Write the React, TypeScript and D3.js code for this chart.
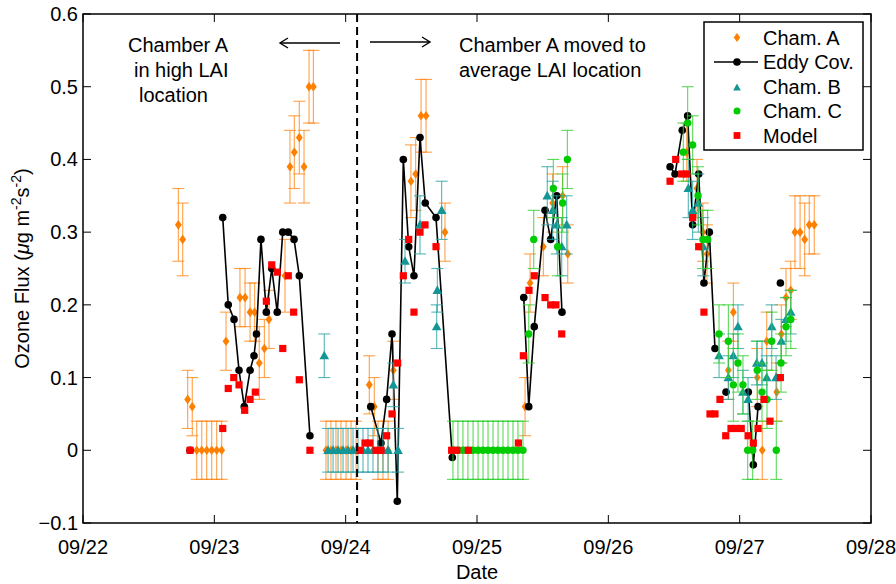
import React from "react";
import * as d3 from "d3";

// ---------- data (time = day of September, fractional) ----------
const xTickDays = [22, 23, 24, 25, 26, 27, 28];
const xTickLabels = ["09/22", "09/23", "09/24", "09/25", "09/26", "09/27", "09/28"];
const yTicks = [-0.1, 0, 0.1, 0.2, 0.3, 0.4, 0.5, 0.6];
const yTickLabels = ["\u22120.1", "0", "0.1", "0.2", "0.3", "0.4", "0.5", "0.6"];

const chamAT = [22.726, 22.759, 22.797, 22.832, 22.866, 22.904, 22.942, 22.980, 23.018, 23.056, 23.089, 23.195, 23.234, 23.272, 23.307, 23.342, 23.381, 23.416, 23.538, 23.576, 23.609, 23.647, 23.683, 23.721, 23.754,
  23.850, 23.888, 23.926, 23.964, 24.003, 24.041, 24.079, 24.180, 24.218, 24.246, 24.284, 24.323, 24.363, 24.497, 24.533, 24.574, 24.612, 24.756,
  25.366, 25.404, 25.505, 25.576, 25.652, 25.691,
  26.597, 26.675, 26.720, 26.751, 26.914, 26.952, 27.134, 27.172, 27.206, 27.282, 27.317, 27.353, 27.389, 27.421, 27.460, 27.495, 27.530, 27.568];
const chamAV = [0.31, 0.29, 0.07, 0.06, 0, 0, 0, 0, 0, 0, 0.15, 0.21, 0.21, 0.19, 0.19, 0.12, 0.14, 0.18, 0.24, 0.39, 0.41, 0.43, 0.39, 0.50, 0.50,
  0, 0, 0, 0, 0, 0, 0, 0.09, 0.06, 0, 0, 0, 0.11, 0.37, 0.38, 0.46, 0.46, 0.30,
  0.06, 0.23, 0.28, 0.34, 0.35, 0.27,
  0.41, 0.36, 0.30, 0.27, 0.11, 0.19, 0.10, 0.0, 0.15, 0.08, 0.16, 0.21, 0.22, 0.30, 0.30, 0.29, 0.31, 0.31];
const chamAE = [0.05, 0.05, 0.04, 0.04, 0.04, 0.04, 0.04, 0.04, 0.04, 0.04, 0.04, 0.04, 0.04, 0.04, 0.04, 0.05, 0.04, 0.04, 0.05, 0.05, 0.05, 0.05, 0.05, 0.05, 0.05,
  0.04, 0.04, 0.04, 0.04, 0.04, 0.04, 0.04, 0.04, 0.04, 0.04, 0.04, 0.04, 0.04, 0.05, 0.05, 0.05, 0.05, 0.04,
  0.04, 0.04, 0.04, 0.04, 0.04, 0.04,
  0.04, 0.04, 0.04, 0.04, 0.04, 0.04, 0.04, 0.04, 0.04, 0.04, 0.04, 0.04, 0.04, 0.05, 0.05, 0.05, 0.04, 0.04];

const chamBT = [23.837, 23.866, 23.904, 23.942, 23.980, 24.018, 24.056, 24.094, 24.132, 24.170, 24.208, 24.246, 24.284, 24.323, 24.399, 24.363, 24.452, 24.566, 24.731, 24.698, 24.693,
  25.535, 25.576, 25.607, 25.645, 25.683,
  26.609, 26.642, 26.685, 26.723, 26.843, 26.914, 26.952, 26.987, 27.025, 27.064, 27.130, 27.170, 27.206, 27.244, 27.277, 27.317, 27.353, 27.389];
const chamBV = [0.13, 0, 0, 0, 0, 0, 0, 0, 0, 0, 0, 0, 0, 0, 0, 0.09, 0.26, 0.31, 0.33, 0.22, 0.17,
  0.35, 0.33, 0.31, 0.28, 0.31,
  0.36, 0.33, 0.34, 0.28, 0.13, 0.10, 0.13, 0.17, 0.08, 0.07, 0.12, 0.12, 0.10, 0.17, 0.10, 0.15, 0.18, 0.19];
const chamBE = [0.03, 0.03, 0.03, 0.03, 0.03, 0.03, 0.03, 0.03, 0.03, 0.03, 0.03, 0.03, 0.03, 0.03, 0.03, 0.03, 0.03, 0.04, 0.04, 0.03, 0.03,
  0.04, 0.04, 0.04, 0.04, 0.04,
  0.04, 0.04, 0.04, 0.04, 0.03, 0.03, 0.03, 0.03, 0.03, 0.03, 0.03, 0.03, 0.03, 0.03, 0.03, 0.03, 0.03, 0.03];

const chamCT = [24.817, 24.855, 24.893, 24.931, 24.970, 25.008, 25.046, 25.084, 25.122, 25.160, 25.198, 25.236, 25.274, 25.312, 25.350,
  25.394, 25.432, 25.581, 25.614, 25.652, 25.688,
  26.571, 26.604, 26.642, 26.683, 26.720, 26.756, 26.843, 26.914, 26.952, 26.987, 27.025, 27.061, 27.099, 27.134, 27.170, 27.208, 27.244, 27.279, 27.315, 27.353, 27.389];
const chamCV = [0, 0, 0, 0, 0, 0, 0, 0, 0, 0, 0, 0, 0, 0, 0,
  0.16, 0.29, 0.36, 0.28, 0.34, 0.40,
  0.41, 0.45, 0.42, 0.35, 0.29, 0.29, 0.16, 0.15, 0.09, 0.12, 0.09, 0.0, 0.0, 0.11, 0.08, 0.07, 0.15, 0.0, 0.12, 0.17, 0.18];
const chamCE = [0.04, 0.04, 0.04, 0.04, 0.04, 0.04, 0.04, 0.04, 0.04, 0.04, 0.04, 0.04, 0.04, 0.04, 0.04,
  0.04, 0.04, 0.04, 0.04, 0.04, 0.04,
  0.04, 0.05, 0.04, 0.04, 0.04, 0.04, 0.04, 0.05, 0.05, 0.04, 0.04, 0.04, 0.04, 0.04, 0.04, 0.04, 0.04, 0.04, 0.04, 0.04, 0.04];

// NaN marks a break in the Eddy covariance line
const eddyT = [22.815, NaN,
  23.064, 23.106, 23.150, 23.188, 23.228, 23.272, 23.302, 23.321, 23.355, 23.396, 23.437, 23.479, 23.521, 23.563, 23.607, 23.647, 23.728, NaN,
  24.191, 24.269, 24.312, 24.353, 24.393, 24.439, 24.480, 24.520, 24.566, 24.606, 24.688, 24.812, NaN,
  25.356, 25.394, 25.436, 25.518, 25.561, 25.607, 25.647, NaN,
  26.470, 26.508, 26.563, 26.604, 26.642, 26.688, 26.728, 26.769, 26.812, NaN,
  26.896, NaN,
  27.066, 27.104, 27.140, NaN,
  27.310];
const eddyV = [0.0, NaN,
  0.32, 0.20, 0.18, 0.11, 0.06, 0.11, 0.13, 0.16, 0.29, 0.19, 0.25, 0.19, 0.30, 0.30, 0.29, 0.24, 0.02, NaN,
  0.06, 0.01, 0.07, 0.16, -0.07, 0.40, 0.28, 0.24, 0.43, 0.34, 0.32, -0.01, NaN,
  0.21, 0.06, 0.17, 0.33, 0.29, 0.35, 0.19, NaN,
  0.39, 0.38, 0.44, 0.46, 0.31, 0.38, 0.23, 0.30, 0.14, NaN,
  0.08, NaN,
  0.08, -0.02, 0.06, NaN,
  0.23];

const modelT = [22.815, 23.064, 23.106, 23.148, 23.188, 23.231, 23.272, 23.312, 23.396, 23.437, 23.479, 23.521, 23.563, 23.604, 23.647, 23.728,
  24.109, 24.147, 24.185, 24.231, 24.269, 24.312, 24.353, 24.396, 24.439, 24.480, 24.520, 24.566, 24.604, 24.688, 24.807, 24.846, 24.934,
  25.315, 25.353, 25.396, 25.436, 25.518, 25.561, 25.601, 25.645,
  26.470, 26.513, 26.559, 26.597, 26.642, 26.688, 26.728, 26.774, 26.812, 26.850, 26.894, 26.934, 26.972, 27.012, 27.064, 27.104, 27.140, 27.185, 27.231, 27.310];
const modelV = [0, 0.03, 0.085, 0.10, 0.09, 0.055, 0.07, 0.08, 0.205, 0.255, 0.245, 0.14, 0.24, 0.19, 0.097, 0,
  0, 0.01, 0.01, 0, 0, 0.02, 0.05, 0.12, 0.24, 0.29, 0.19, 0.30, 0.31, 0.28, 0, 0, 0,
  0.01, 0.13, 0.22, 0.24, 0.21, 0.20, 0.20, 0.16,
  0.37, 0.40, 0.38, 0.38, 0.32, 0.28, 0.19, 0.05, 0.05, 0.07, 0.02, 0.03, 0.03, 0.03, 0.02, 0.01, 0.03, 0.07, 0.04, 0.10];

const legendLabels = ["Cham. A", "Eddy Cov.", "Cham. B", "Cham. C", "Model"];
const dividerDay = 24.087;

// ---------- styling ----------
const ORANGE = "#ff7f00";
const ORANGE_BAR = "#ff8a1c";
const TEAL = "#149696";
const TEAL_BAR = "#2aa3a3";
const GREEN = "#00cc00";
const GREEN_BAR = "#2fcf2f";
const RED = "#ff0000";
const FONT = "'Liberation Sans', Arial, Helvetica, sans-serif";

const W = 896, H = 584;
const L = 83, R = 871, T = 14, B = 523;

const diamond = (s = 1) => `M0,${-4.8 * s}L${3.4 * s},0L0,${4.8 * s}L${-3.4 * s},0Z`;
const triangle = (s = 1) => `M0,${-5 * s}L${4.8 * s},${3.6 * s}L${-4.8 * s},${3.6 * s}Z`;

function ErrorBars({ t, v, e, x, y, color }) {
  return (
    <g stroke={color} strokeWidth={1.1} strokeOpacity={0.8} fill="none">
      {t.map((d, i) => {
        const cx = x(d);
        const y1 = y(v[i] + e[i]);
        const y2 = y(v[i] - e[i]);
        return (
          <g key={i}>
            <line x1={cx} x2={cx} y1={y1} y2={y2} />
            <line x1={cx - 6} x2={cx + 6} y1={y1} y2={y1} />
            <line x1={cx - 6} x2={cx + 6} y1={y2} y2={y2} />
          </g>
        );
      })}
    </g>
  );
}

export default function App() {
  const x = d3.scaleLinear().domain([22, 28]).range([L, R]);
  const y = d3.scaleLinear().domain([-0.1, 0.6]).range([B, T]);

  const eddyPts = eddyT.map((t, i) => ({ t, v: eddyV[i] }));
  const line = d3
    .line<{ t: number; v: number }>()
    .defined((d) => !isNaN(d.v))
    .x((d) => x(d.t))
    .y((d) => y(d.v));

  const tickLen = 8;
  const legX = 704, legY = 22, legW = 159, legH = 128;
  const legRow = (i: number) => legY + 15.5 + i * 24.5;

  return (
    <svg width={W} height={H} style={{ position: "absolute", left: 0, top: 0, background: "#fff" }} fontFamily={FONT}>
      <rect x={0} y={0} width={W} height={H} fill="#fff" />

      {/* Cham A */}
      <ErrorBars t={chamAT} v={chamAV} e={chamAE} x={x} y={y} color={ORANGE_BAR} />
      {chamAT.map((t, i) => (
        <path key={"a" + i} d={diamond()} transform={`translate(${x(t)},${y(chamAV[i])})`} fill={ORANGE} />
      ))}

      {/* Eddy covariance */}
      <path d={line(eddyPts) || ""} fill="none" stroke="#000" strokeWidth={1.6} />
      {eddyPts.filter((d) => !isNaN(d.v)).map((d, i) => (
        <circle key={"e" + i} cx={x(d.t)} cy={y(d.v)} r={3.8} fill="#000" />
      ))}

      {/* Cham B */}
      <ErrorBars t={chamBT} v={chamBV} e={chamBE} x={x} y={y} color={TEAL_BAR} />
      {chamBT.map((t, i) => (
        <path key={"b" + i} d={triangle()} transform={`translate(${x(t)},${y(chamBV[i])})`} fill={TEAL} />
      ))}

      {/* Cham C */}
      <ErrorBars t={chamCT} v={chamCV} e={chamCE} x={x} y={y} color={GREEN_BAR} />
      {chamCT.map((t, i) => (
        <circle key={"c" + i} cx={x(t)} cy={y(chamCV[i])} r={3.7} fill={GREEN} />
      ))}

      {/* Model */}
      {modelT.map((t, i) => (
        <rect key={"m" + i} x={x(t) - 3.6} y={y(modelV[i]) - 3.6} width={7.2} height={7.2} fill={RED} />
      ))}

      {/* divider */}
      <line x1={x(dividerDay)} x2={x(dividerDay)} y1={T} y2={B} stroke="#000" strokeWidth={2} strokeDasharray="8,5" />

      {/* frame & ticks */}
      <rect x={L} y={T} width={R - L} height={B - T} fill="none" stroke="#000" strokeWidth={1.5} />
      <g stroke="#000" strokeWidth={1}>
        {xTickDays.map((d, i) => (
          <g key={"xt" + i}>
            <line x1={x(d)} x2={x(d)} y1={B} y2={B - tickLen} />
            <line x1={x(d)} x2={x(d)} y1={T} y2={T + tickLen} />
          </g>
        ))}
        {yTicks.map((v, i) => (
          <g key={"yt" + i}>
            <line x1={L} x2={L + tickLen} y1={y(v)} y2={y(v)} />
            <line x1={R} x2={R - tickLen} y1={y(v)} y2={y(v)} />
          </g>
        ))}
      </g>
      <g fontSize={20} fill="#000">
        {xTickDays.map((d, i) => (
          <text key={"xl" + i} x={x(d)} y={B + 31} textAnchor="middle">{xTickLabels[i]}</text>
        ))}
        {yTicks.map((v, i) => (
          <text key={"yl" + i} x={L - 5} y={y(v) + 7} textAnchor="end">{yTickLabels[i]}</text>
        ))}
        <text x={(L + R) / 2} y={579} textAnchor="middle">Date</text>
        <text transform={`translate(29,${(T + B) / 2}) rotate(-90)`} textAnchor="middle">
          Ozone Flux (<tspan fontStyle="italic">{"\u03bc"}</tspan>g m<tspan dy={-8} fontSize={14}>-2</tspan>
          <tspan dy={8}>s</tspan><tspan dy={-8} fontSize={14}>-2</tspan><tspan dy={8}>)</tspan>
        </text>
      </g>

      {/* annotations */}
      <g fontSize={20} fill="#000">
        <text x={128} y={52}>Chamber A</text>
        <text x={134} y={77}>in high LAI</text>
        <text x={139} y={102}>location</text>
        <text x={459} y={52}>Chamber A moved to</text>
        <text x={459} y={77}>average LAI location</text>
      </g>
      <g stroke="#000" strokeWidth={1.4} fill="none">
        <line x1={340} x2={280} y1={43} y2={43} />
        <path d="M288,38L280,43L288,48" />
        <line x1={370} x2={430} y1={42} y2={42} />
        <path d="M422,37L430,42L422,47" />
      </g>

      {/* legend */}
      <rect x={legX} y={legY} width={legW} height={legH} fill="#fff" stroke="#000" strokeWidth={1.5} />
      <g fontSize={20} fill="#000">
        {legendLabels.map((lab, i) => (
          <text key={"lg" + i} x={763} y={legRow(i) + 7}>{lab}</text>
        ))}
      </g>
      <path d={diamond(0.95)} transform={`translate(737,${legRow(0)})`} fill={ORANGE} />
      <line x1={714} x2={758} y1={legRow(1)} y2={legRow(1)} stroke="#000" strokeWidth={1.6} />
      <circle cx={737} cy={legRow(1)} r={3.8} fill="#000" />
      <path d={triangle(0.8)} transform={`translate(737,${legRow(2) + 1})`} fill={TEAL} />
      <circle cx={737} cy={legRow(3)} r={3.5} fill={GREEN} />
      <rect x={737 - 3.4} y={legRow(4) - 3.4} width={6.8} height={6.8} fill={RED} />
    </svg>
  );
}
